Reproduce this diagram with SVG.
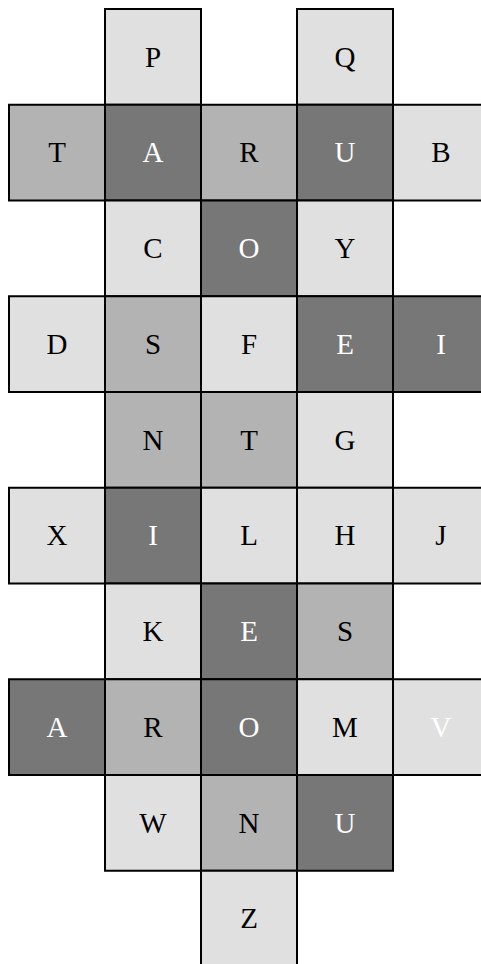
<svg xmlns="http://www.w3.org/2000/svg" width="481" height="964" viewBox="0 0 481 964">
<style>
rect{stroke:#000;stroke-width:2}
.l{fill:#e0e0e0}.m{fill:#b3b3b3}.d{fill:#777777}
text{font-family:"Liberation Serif","Times New Roman",serif;font-size:29px;text-anchor:middle}
.k{fill:#000}.w{fill:#fff}
</style>
<rect width="481" height="964" fill="#fff" style="stroke:none"/>
<g id="r0c1"><rect class="l" x="105" y="9" width="96" height="95.75"/><text class="k" x="153" y="66.6">P</text></g>
<g id="r0c3"><rect class="l" x="297" y="9" width="96" height="95.75"/><text class="k" x="345" y="66.6">Q</text></g>
<g id="r1c0"><rect class="m" x="9" y="104.75" width="96" height="95.75"/><text class="k" x="57" y="162.3">T</text></g>
<g id="r1c1"><rect class="d" x="105" y="104.75" width="96" height="95.75"/><text class="w" x="153" y="162.3">A</text></g>
<g id="r1c2"><rect class="m" x="201" y="104.75" width="96" height="95.75"/><text class="k" x="249" y="162.3">R</text></g>
<g id="r1c3"><rect class="d" x="297" y="104.75" width="96" height="95.75"/><text class="w" x="345" y="162.3">U</text></g>
<g id="r1c4"><rect class="l" x="393" y="104.75" width="96" height="95.75"/><text class="k" x="441" y="162.3">B</text></g>
<g id="r2c1"><rect class="l" x="105" y="200.5" width="96" height="95.75"/><text class="k" x="153" y="258.1">C</text></g>
<g id="r2c2"><rect class="d" x="201" y="200.5" width="96" height="95.75"/><text class="w" x="249" y="258.1">O</text></g>
<g id="r2c3"><rect class="l" x="297" y="200.5" width="96" height="95.75"/><text class="k" x="345" y="258.1">Y</text></g>
<g id="r3c0"><rect class="l" x="9" y="296.25" width="96" height="95.75"/><text class="k" x="57" y="353.8">D</text></g>
<g id="r3c1"><rect class="m" x="105" y="296.25" width="96" height="95.75"/><text class="k" x="153" y="353.8">S</text></g>
<g id="r3c2"><rect class="l" x="201" y="296.25" width="96" height="95.75"/><text class="k" x="249" y="353.8">F</text></g>
<g id="r3c3"><rect class="d" x="297" y="296.25" width="96" height="95.75"/><text class="w" x="345" y="353.8">E</text></g>
<g id="r3c4"><rect class="d" x="393" y="296.25" width="96" height="95.75"/><text class="w" x="441" y="353.8">I</text></g>
<g id="r4c1"><rect class="m" x="105" y="392" width="96" height="95.75"/><text class="k" x="153" y="449.6">N</text></g>
<g id="r4c2"><rect class="m" x="201" y="392" width="96" height="95.75"/><text class="k" x="249" y="449.6">T</text></g>
<g id="r4c3"><rect class="l" x="297" y="392" width="96" height="95.75"/><text class="k" x="345" y="449.6">G</text></g>
<g id="r5c0"><rect class="l" x="9" y="487.75" width="96" height="95.75"/><text class="k" x="57" y="545.3">X</text></g>
<g id="r5c1"><rect class="d" x="105" y="487.75" width="96" height="95.75"/><text class="w" x="153" y="545.3">I</text></g>
<g id="r5c2"><rect class="l" x="201" y="487.75" width="96" height="95.75"/><text class="k" x="249" y="545.3">L</text></g>
<g id="r5c3"><rect class="l" x="297" y="487.75" width="96" height="95.75"/><text class="k" x="345" y="545.3">H</text></g>
<g id="r5c4"><rect class="l" x="393" y="487.75" width="96" height="95.75"/><text class="k" x="441" y="545.3">J</text></g>
<g id="r6c1"><rect class="l" x="105" y="583.5" width="96" height="95.75"/><text class="k" x="153" y="641.1">K</text></g>
<g id="r6c2"><rect class="d" x="201" y="583.5" width="96" height="95.75"/><text class="w" x="249" y="641.1">E</text></g>
<g id="r6c3"><rect class="m" x="297" y="583.5" width="96" height="95.75"/><text class="k" x="345" y="641.1">S</text></g>
<g id="r7c0"><rect class="d" x="9" y="679.25" width="96" height="95.75"/><text class="w" x="57" y="736.8">A</text></g>
<g id="r7c1"><rect class="m" x="105" y="679.25" width="96" height="95.75"/><text class="k" x="153" y="736.8">R</text></g>
<g id="r7c2"><rect class="d" x="201" y="679.25" width="96" height="95.75"/><text class="w" x="249" y="736.8">O</text></g>
<g id="r7c3"><rect class="l" x="297" y="679.25" width="96" height="95.75"/><text class="k" x="345" y="736.8">M</text></g>
<g id="r7c4"><rect class="l" x="393" y="679.25" width="96" height="95.75"/><text class="w" x="441" y="736.8">V</text></g>
<g id="r8c1"><rect class="l" x="105" y="775" width="96" height="95.75"/><text class="k" x="153" y="832.6">W</text></g>
<g id="r8c2"><rect class="m" x="201" y="775" width="96" height="95.75"/><text class="k" x="249" y="832.6">N</text></g>
<g id="r8c3"><rect class="d" x="297" y="775" width="96" height="95.75"/><text class="w" x="345" y="832.6">U</text></g>
<g id="r9c2"><rect class="l" x="201" y="870.75" width="96" height="95.75"/><text class="k" x="249" y="928.3">Z</text></g>
<g id="connectors"></g>
</svg>
